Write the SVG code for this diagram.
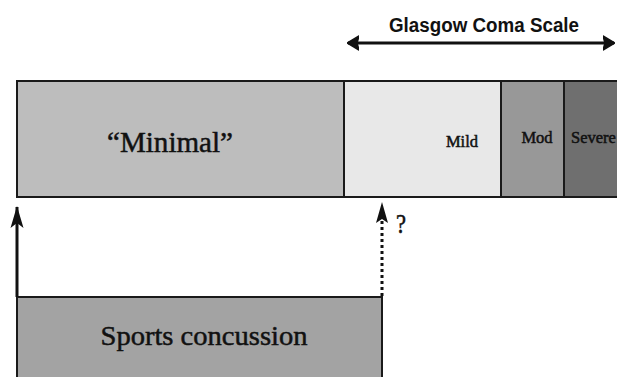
<svg xmlns="http://www.w3.org/2000/svg" width="617" height="377" viewBox="0 0 617 377">
<style>
.box{stroke:#1a1a1a;stroke-width:2}
.serif{font-family:"Liberation Serif","DejaVu Serif",serif;fill:#111;stroke:#111;stroke-width:0.5}
.sans{font-family:"Liberation Sans","DejaVu Sans",sans-serif;font-weight:bold;fill:#111}
.line{stroke:#111;stroke-width:3;fill:none}
</style>
<defs>
<marker id="head" viewBox="0 0 22 14" refX="21" refY="7" markerWidth="22" markerHeight="14" orient="auto" markerUnits="userSpaceOnUse">
<path d="M0,0.5 L22,7 L0,13.5 L5,7 Z" fill="#111"/>
</marker>
<marker id="head2" viewBox="0 0 12 16" refX="11" refY="8" markerWidth="12" markerHeight="16" orient="auto-start-reverse" markerUnits="userSpaceOnUse">
<path d="M0,1 L12,8 L0,15 L2,8 Z" fill="#111" stroke="#111" stroke-width="1.5" stroke-linejoin="round"/>
</marker>
</defs>
<rect width="617" height="377" fill="#fff"/>
<g id="gcs">
<text class="sans" x="484" y="32" font-size="19.5" text-anchor="middle" textLength="190" lengthAdjust="spacingAndGlyphs">Glasgow Coma Scale</text>
</g>
<g id="minimal">
<rect class="box" x="17" y="81" width="327" height="116" fill="#bdbdbd"/>
<text class="serif" x="170" y="152" font-size="30" text-anchor="middle" textLength="126" lengthAdjust="spacingAndGlyphs">“Minimal”</text>
</g>
<g id="mild">
<rect class="box" x="344" y="81" width="157" height="116" fill="#e8e8e8"/>
<text class="serif" x="462" y="147" font-size="16.5" text-anchor="middle">Mild</text>
</g>
<g id="mod">
<rect class="box" x="501" y="81" width="63" height="116" fill="#989898"/>
<text class="serif" x="537" y="143" font-size="16.5" text-anchor="middle">Mod</text>
</g>
<g id="severe">
<rect class="box" x="564" y="81" width="60" height="116" fill="#6f6f6f"/>
<text class="serif" x="571" y="143" font-size="16.5">Severe</text>
</g>
<g id="sports">
<rect class="box" x="17" y="297" width="365" height="90" fill="#a3a3a3"/>
<text class="serif" x="204" y="345" font-size="28" text-anchor="middle" textLength="207" lengthAdjust="spacingAndGlyphs" stroke-width="0.7">Sports concussion</text>
</g>
<g id="connectors">
<line class="line" x1="348" y1="43" x2="614" y2="43" marker-start="url(#head2)" marker-end="url(#head2)"/>
<line class="line" x1="17" y1="297" x2="17" y2="207" marker-end="url(#head)"/>
<line class="line" x1="382" y1="296" x2="382" y2="220" stroke-dasharray="3 3"/>
<path d="M382,202 L388,223 L382,219 L376,223 Z" fill="#111"/>
<text class="serif" x="396" y="233" font-size="27" stroke-width="0.3" textLength="10" lengthAdjust="spacingAndGlyphs">?</text>
</g>
</svg>
